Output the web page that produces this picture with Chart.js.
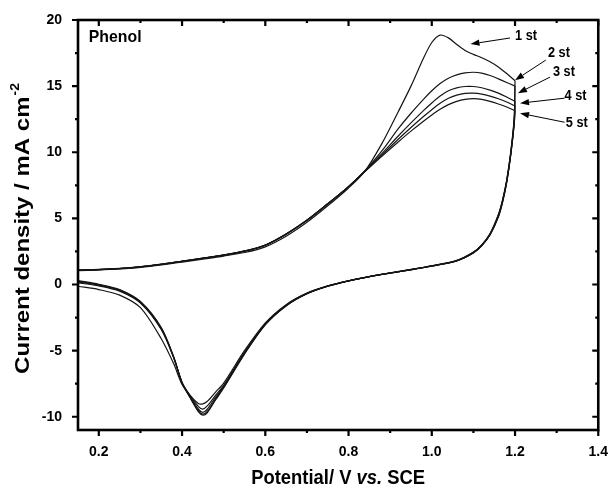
<!DOCTYPE html>
<html>
<head>
<meta charset="utf-8">
<title>Phenol CV</title>
<script src="https://cdn.jsdelivr.net/npm/chart.js@4.4.0/dist/chart.umd.min.js"></script>
<style>
  html, body { margin: 0; padding: 0; background: #fff; }
  #wrap { width: 614px; height: 492px; }
</style>
</head>
<body>
<div id="wrap"><canvas id="cvChart" width="614" height="492"></canvas></div>
<script>
// Forward (anodic) sweep, 0.15 -> 1.2 V
const potentialFwd = [0.15, 0.2, 0.25, 0.3, 0.35, 0.4, 0.45, 0.5, 0.55, 0.6, 0.65, 0.7, 0.75, 0.8,
  0.84, 0.88, 0.92, 0.95, 0.98, 1.0, 1.02, 1.04, 1.06, 1.08, 1.1, 1.12, 1.14, 1.16, 1.18, 1.2];

const currentFwd1 = [1.05, 1.1, 1.18, 1.3, 1.48, 1.7, 1.92, 2.15, 2.42, 2.85, 3.65, 4.7, 5.95, 7.3,
  8.6, 10.65, 13.1, 15.0, 17.1, 18.3, 18.86, 18.65, 18.15, 17.7, 17.4, 17.15, 16.85, 16.45, 15.95, 15.4];
const currentFwd2 = [1.08, 1.12, 1.2, 1.33, 1.52, 1.75, 1.98, 2.22, 2.52, 2.97, 3.8, 4.85, 6.1, 7.4,
  8.62, 10.1, 11.8, 12.95, 14.0, 14.65, 15.2, 15.6, 15.85, 16.0, 16.05, 15.98, 15.8, 15.55, 15.28, 15.0];
const currentFwd3 = [1.08, 1.12, 1.2, 1.33, 1.52, 1.75, 1.98, 2.22, 2.52, 2.97, 3.8, 4.85, 6.1, 7.4,
  8.6, 9.9, 11.25, 12.22, 13.15, 13.73, 14.25, 14.65, 14.87, 14.97, 14.97, 14.88, 14.7, 14.47, 14.18, 13.85];
const currentFwd4 = [1.09, 1.13, 1.21, 1.34, 1.53, 1.76, 1.99, 2.23, 2.53, 2.98, 3.81, 4.86, 6.1, 7.4,
  8.58, 9.8, 11.0, 11.87, 12.7, 13.22, 13.7, 14.08, 14.32, 14.45, 14.47, 14.4, 14.25, 14.05, 13.8, 13.5];
const currentFwd5 = [1.1, 1.14, 1.22, 1.35, 1.54, 1.77, 2.0, 2.24, 2.54, 2.99, 3.82, 4.87, 6.1, 7.4,
  8.56, 9.7, 10.8, 11.6, 12.35, 12.82, 13.25, 13.6, 13.85, 14.0, 14.05, 14.0, 13.85, 13.65, 13.42, 13.15];

// Reverse (cathodic) sweep, 1.2 -> 0.15 V
const potentialRev = [1.2, 1.198, 1.19, 1.18, 1.17, 1.16, 1.14, 1.12, 1.1, 1.06, 1.0,
  0.95, 0.9, 0.85, 0.8, 0.75, 0.7, 0.65, 0.6, 0.55, 0.5,
  0.48, 0.46, 0.45, 0.44, 0.42, 0.4, 0.38, 0.35, 0.3, 0.25, 0.2, 0.15];

const currentRev1 = [15.4, 12.6, 10.1, 7.9, 6.4, 5.3, 3.85, 3.0, 2.45, 1.82, 1.42,
  1.14, 0.88, 0.6, 0.28, -0.1, -0.65, -1.52, -2.9, -5.0, -7.45,
  -8.15, -8.85, -9.02, -9.02, -8.4, -7.55, -6.0, -4.1, -1.75, -0.8, -0.38, -0.13];
const currentRev2 = [15.0, 12.5, 10.0, 7.85, 6.35, 5.25, 3.82, 2.98, 2.43, 1.81, 1.41,
  1.13, 0.87, 0.6, 0.28, -0.11, -0.67, -1.56, -2.97, -5.12, -7.62,
  -8.4, -9.2, -9.42, -9.25, -8.42, -7.4, -5.55, -3.4, -1.4, -0.5, -0.1, 0.12];
const currentRev3 = [13.85, 12.3, 9.95, 7.8, 6.3, 5.2, 3.8, 2.96, 2.41, 1.8, 1.4,
  1.12, 0.87, 0.6, 0.28, -0.12, -0.68, -1.58, -3.0, -5.18, -7.7,
  -8.55, -9.45, -9.66, -9.45, -8.5, -7.4, -5.52, -3.35, -1.35, -0.45, -0.05, 0.2];
const currentRev4 = [13.5, 12.2, 9.9, 7.75, 6.25, 5.15, 3.78, 2.95, 2.4, 1.8, 1.4,
  1.12, 0.86, 0.6, 0.28, -0.12, -0.69, -1.6, -3.02, -5.22, -7.76,
  -8.68, -9.62, -9.8, -9.58, -8.55, -7.42, -5.5, -3.3, -1.32, -0.42, -0.02, 0.25];
const currentRev5 = [13.15, 12.1, 9.85, 7.7, 6.2, 5.1, 3.75, 2.93, 2.39, 1.79, 1.39,
  1.11, 0.86, 0.6, 0.28, -0.13, -0.7, -1.62, -3.05, -5.26, -7.82,
  -8.75, -9.72, -9.88, -9.65, -8.6, -7.45, -5.48, -3.25, -1.28, -0.38, 0.02, 0.3];

const forwardCurrents = [currentFwd1, currentFwd2, currentFwd3, currentFwd4, currentFwd5];
const reverseCurrents = [currentRev1, currentRev2, currentRev3, currentRev4, currentRev5];

// Axis ticks
const xTickValues = [0.2, 0.4, 0.6, 0.8, 1.0, 1.2, 1.4];
const xTickLabels = ['0.2', '0.4', '0.6', '0.8', '1.0', '1.2', '1.4'];
const xMinorTicks = [0.3, 0.5, 0.7, 0.9, 1.1, 1.3];
const yTickValues = [-10, -5, 0, 5, 10, 15, 20];
const yTickLabels = ['-10', '-5', '0', '5', '10', '15', '20'];
const yMinorTicks = [-7.5, -2.5, 2.5, 7.5, 12.5, 17.5];

// Cycle labels with arrows (data units)
const cycleLabels = ['1 st', '2 st', '3 st', '4 st', '5 st'];
const labelAnchors = [[1.200, 18.8], [1.279, 17.5], [1.291, 16.06], [1.319, 14.3], [1.322, 12.2]];
const arrowTails = [[1.188, 18.64], [1.274, 16.97], [1.284, 15.68], [1.319, 14.09], [1.319, 12.27]];
const arrowHeads = [[1.093, 18.18], [1.2, 15.45], [1.207, 14.47], [1.212, 13.71], [1.212, 12.95]];
const sampleName = 'Phenol';
const sampleAnchor = [0.176, 18.7];

const FONT = '"Liberation Sans", Arial, Helvetica, sans-serif';

function toPoints(xs, ys) {
    return xs.map((x, i) => ({ x: x, y: ys[i] }));
}

const datasets = [];
forwardCurrents.forEach((cur, i) => {
    datasets.push({ label: 'cycle ' + (i + 1) + ' fwd', data: toPoints(potentialFwd, cur) });
    datasets.push({ label: 'cycle ' + (i + 1) + ' rev', data: toPoints(potentialRev, reverseCurrents[i]) });
});
datasets.forEach(ds => {
    ds.showLine = true;
    ds.borderColor = '#151515';
    ds.borderWidth = 1.2;
    ds.pointRadius = 0;
    ds.tension = 0.3;
    ds.fill = false;
});

// Draw text squeezed horizontally (the figure uses a narrow bold face)
function squeezed(ctx, text, px, py, font, sx, align) {
    ctx.save();
    ctx.translate(px, py);
    ctx.scale(sx, 1);
    ctx.font = font;
    ctx.textAlign = align;
    ctx.textBaseline = 'middle';
    ctx.fillText(text, 0, 0);
    ctx.restore();
}

// Frame, inner/outer ticks, axis titles and annotations
const framePlugin = {
    id: 'framePlugin',
    afterDraw(chart) {
        const { ctx, chartArea: a, scales: { x, y } } = chart;
        ctx.save();
        ctx.strokeStyle = '#000';
        ctx.fillStyle = '#000';

        ctx.lineWidth = 2.2;
        ctx.beginPath();
        xTickValues.forEach(v => {
            const px = x.getPixelForValue(v);
            ctx.moveTo(px, a.bottom); ctx.lineTo(px, a.bottom + 6);
            ctx.moveTo(px, a.top); ctx.lineTo(px, a.top + 6);
        });
        xMinorTicks.forEach(v => {
            const px = x.getPixelForValue(v);
            ctx.moveTo(px, a.bottom); ctx.lineTo(px, a.bottom + 3);
            ctx.moveTo(px, a.top); ctx.lineTo(px, a.top + 3);
        });
        yTickValues.forEach(v => {
            const py = y.getPixelForValue(v);
            ctx.moveTo(a.left - 6, py); ctx.lineTo(a.left, py);
            ctx.moveTo(a.right - 6, py); ctx.lineTo(a.right, py);
        });
        yMinorTicks.forEach(v => {
            const py = y.getPixelForValue(v);
            ctx.moveTo(a.left - 3, py); ctx.lineTo(a.left, py);
            ctx.moveTo(a.right - 3, py); ctx.lineTo(a.right, py);
        });
        ctx.stroke();

        ctx.lineWidth = 2.6;
        ctx.strokeRect(a.left, a.top, a.right - a.left, a.bottom - a.top);

        // x title: Potential/ V vs. SCE
        const sx = 0.92;
        const partA = 'Potential/ V ', partB = 'vs.', partC = ' SCE';
        const fB = 'bold 20px ' + FONT, fI = 'italic bold 20px ' + FONT;
        ctx.font = fB; const wA = ctx.measureText(partA).width, wC = ctx.measureText(partC).width;
        ctx.font = fI; const wB = ctx.measureText(partB).width;
        const total = (wA + wB + wC) * sx;
        let tx = (a.left + a.right) / 2 - total / 2;
        const ty = 478;
        squeezed(ctx, partA, tx, ty, fB, sx, 'left'); tx += wA * sx;
        squeezed(ctx, partB, tx, ty, fI, sx, 'left'); tx += wB * sx;
        squeezed(ctx, partC, tx, ty, fB, sx, 'left');

        // y title with superscript
        const yMain = 'Current density / mA cm', ySup = '-2';
        const fMain = 'bold 24px ' + FONT, fSup = 'bold 14px ' + FONT;
        ctx.font = fMain; const wM = ctx.measureText(yMain).width;
        ctx.font = fSup; const wS = ctx.measureText(ySup).width;
        ctx.save();
        ctx.translate(23, 229);
        ctx.rotate(-Math.PI / 2);
        ctx.scale(1, 0.85);
        ctx.textBaseline = 'middle';
        ctx.textAlign = 'left';
        const start = -(wM + wS) / 2;
        ctx.font = fMain; ctx.fillText(yMain, start, 0);
        ctx.font = fSup; ctx.fillText(ySup, start + wM + 1, -9);
        ctx.restore();

        // sample name
        squeezed(ctx, sampleName, x.getPixelForValue(sampleAnchor[0]), y.getPixelForValue(sampleAnchor[1]),
            'bold 17px ' + FONT, 0.93, 'left');

        // cycle labels and arrows
        ctx.lineWidth = 1;
        cycleLabels.forEach((txt, i) => {
            squeezed(ctx, txt, x.getPixelForValue(labelAnchors[i][0]), y.getPixelForValue(labelAnchors[i][1]),
                'bold 15px ' + FONT, 0.85, 'left');
            const x0 = x.getPixelForValue(arrowTails[i][0]), y0 = y.getPixelForValue(arrowTails[i][1]);
            const x1 = x.getPixelForValue(arrowHeads[i][0]), y1 = y.getPixelForValue(arrowHeads[i][1]);
            const ang = Math.atan2(y1 - y0, x1 - x0);
            const hl = 9, hw = 3.2;
            const bx = x1 - hl * Math.cos(ang), by = y1 - hl * Math.sin(ang);
            ctx.beginPath();
            ctx.moveTo(x0, y0); ctx.lineTo(bx, by);
            ctx.stroke();
            ctx.beginPath();
            ctx.moveTo(x1, y1);
            ctx.lineTo(bx + hw * Math.sin(ang), by - hw * Math.cos(ang));
            ctx.lineTo(bx - hw * Math.sin(ang), by + hw * Math.cos(ang));
            ctx.closePath();
            ctx.fill();
        });
        ctx.restore();
    }
};

const ctx = document.getElementById('cvChart').getContext('2d');
new Chart(ctx, {
    type: 'scatter',
    data: { datasets: datasets },
    options: {
        responsive: false,
        animation: false,
        devicePixelRatio: 1,
        layout: { padding: { top: 20, right: 13, left: 0, bottom: 0 } },
        plugins: { legend: { display: false }, tooltip: { enabled: false } },
        scales: {
            x: {
                type: 'linear',
                min: 0.15,
                max: 1.4,
                grid: { display: false },
                border: { display: false },
                afterBuildTicks: axis => { axis.ticks = xTickValues.map(v => ({ value: v })); },
                afterFit: axis => { axis.height = 62; },
                ticks: {
                    autoSkip: false,
                    maxRotation: 0,
                    padding: 6,
                    color: '#000',
                    font: { family: FONT, size: 14, weight: 'bold' },
                    callback: (v, i) => xTickLabels[i]
                }
            },
            y: {
                type: 'linear',
                min: -11,
                max: 20,
                grid: { display: false },
                border: { display: false },
                afterBuildTicks: axis => { axis.ticks = yTickValues.map(v => ({ value: v })); },
                afterFit: axis => { axis.width = 78; },
                ticks: {
                    autoSkip: false,
                    padding: 8,
                    color: '#000',
                    font: { family: FONT, size: 14, weight: 'bold' },
                    callback: (v, i) => yTickLabels[i]
                }
            }
        }
    },
    plugins: [framePlugin]
});
</script>
</body>
</html>
